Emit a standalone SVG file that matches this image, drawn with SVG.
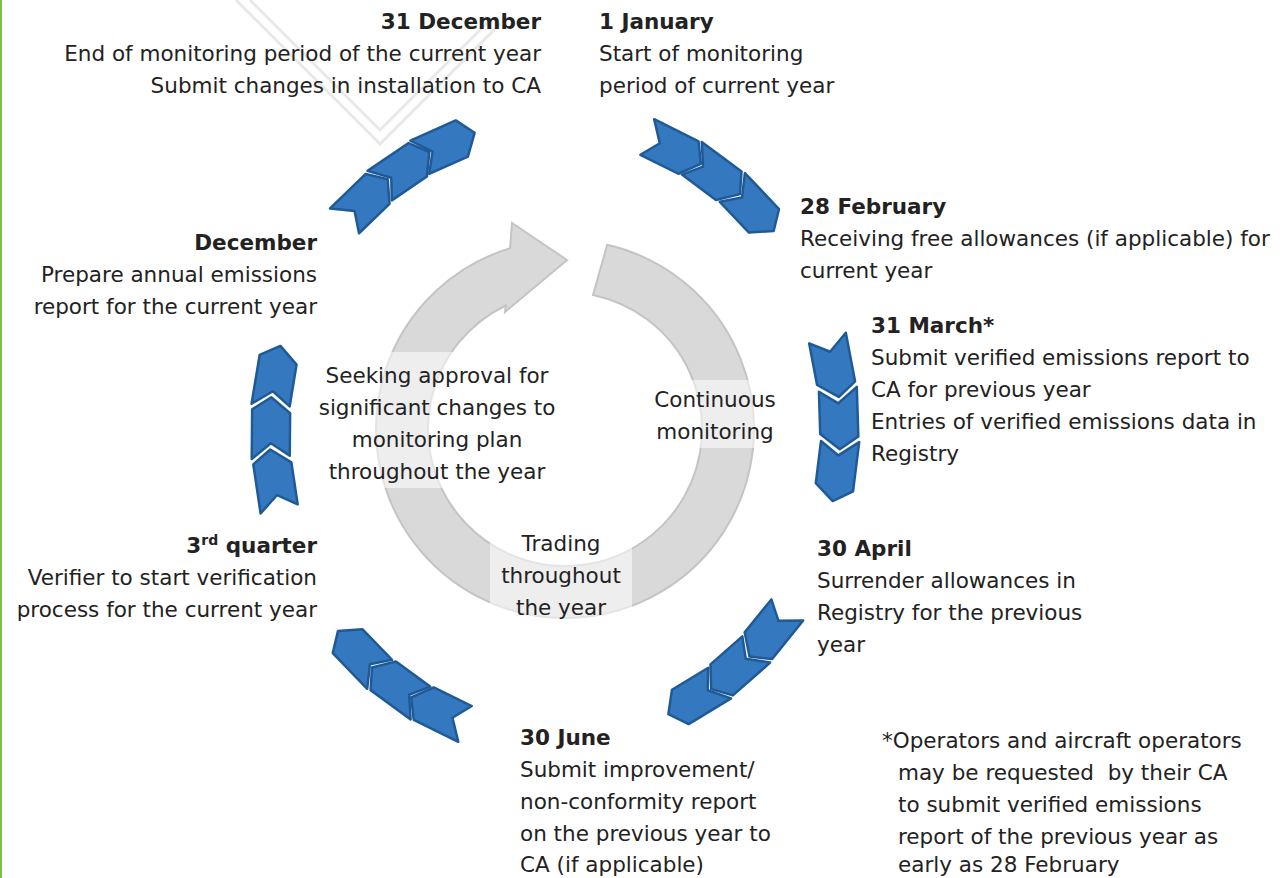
<svg xmlns="http://www.w3.org/2000/svg" width="1286" height="878" viewBox="0 0 1286 878">
  <style>
    text { font-family: "DejaVu Sans", "Liberation Sans", sans-serif; font-size: 21.5px; fill: #222222; }
    .h { font-weight: bold; }
    .r { text-anchor: end; }
    .c { text-anchor: middle; }
    .chev { fill: #3479c0; stroke: #1f5a97; stroke-width: 2.5; stroke-linejoin: round; }
    .wm { fill: none; stroke: #e8e8e8; stroke-width: 3; }
    .veil { fill: #ffffff; fill-opacity: 0.55; }
  </style>
  <defs>
    <!-- one chevron, pointing along +x, centred on the origin; outer edge (-y) a little longer -->
    <polygon id="chev" points="-31.8,-19 17.8,-19 30,0 14.2,19 -28.2,19 -16,0"/>
  </defs>

  <rect x="0" y="0" width="1286" height="878" fill="#ffffff"/>
  <!-- green page rule on the left -->
  <rect x="0" y="0" width="2" height="878" fill="#7ac143"/>

  <!-- faint background stamp -->
  <g id="stamp">
    <path class="wm" d="M236,0 L380,144 L500,24"/>
    <path class="wm" d="M250,0 L380,130 L490,20"/>
  </g>

  <!-- central circular arrow -->
  <g id="cycle">
    <path d="M607.2,244.8 A189,189 0 1 1 510.1,248.2 L512,223 L567,260 L505,312 L505.8,305.5 A137,137 0 1 0 593.0,294.9 Z"
          fill="#d9d9d9" stroke="#c4c4c4" stroke-width="2"/>
  </g>

  <g id="approval">
    <rect class="veil" x="316" y="352" width="242" height="136"/>
    <text class="c" x="437" y="383">Seeking approval for</text>
    <text class="c" x="437" y="415">significant changes to</text>
    <text class="c" x="437" y="447">monitoring plan</text>
    <text class="c" x="437" y="479">throughout the year</text>
  </g>
  <g id="monitoring">
    <rect class="veil" x="646" y="380" width="138" height="68"/>
    <text class="c" x="715" y="407">Continuous</text>
    <text class="c" x="715" y="439">monitoring</text>
  </g>
  <g id="trading">
    <rect class="veil" x="490" y="524" width="142" height="95"/>
    <text class="c" x="561" y="551">Trading</text>
    <text class="c" x="561" y="583">throughout</text>
    <text class="c" x="561" y="615">the year</text>
  </g>

  <!-- chevron connectors between the dates -->
  <g id="connectors">
    <g id="dec-to-31dec">
      <use href="#chev" class="chev" transform="translate(366.1,200.0) rotate(-44.0)"/>
      <use href="#chev" class="chev" transform="translate(404.5,168.8) rotate(-34.1)"/>
      <use href="#chev" class="chev" transform="translate(447.2,145.0) rotate(-24.0)"/>
    </g>
    <g id="1jan-to-28feb">
      <use href="#chev" class="chev" transform="translate(674.1,150.4) rotate(26.6)"/>
      <use href="#chev" class="chev" transform="translate(715.9,176.2) rotate(36.7)"/>
      <use href="#chev" class="chev" transform="translate(753.0,209.2) rotate(46.5)"/>
    </g>
    <g id="31mar-to-30apr">
      <use href="#chev" class="chev" transform="translate(833.1,367.5) rotate(79.2)"/>
      <use href="#chev" class="chev" transform="translate(838.8,419.3) rotate(88.2)"/>
      <use href="#chev" class="chev" transform="translate(836.4,471.3) rotate(97.1)"/>
    </g>
    <g id="30apr-to-30jun">
      <use href="#chev" class="chev" transform="translate(768.4,633.3) rotate(129.0)"/>
      <use href="#chev" class="chev" transform="translate(733.7,669.3) rotate(138.7)"/>
      <use href="#chev" class="chev" transform="translate(694.0,698.6) rotate(148.7)"/>
    </g>
    <g id="30jun-to-q3">
      <use href="#chev" class="chev" transform="translate(438.1,710.7) rotate(-153.9)"/>
      <use href="#chev" class="chev" transform="translate(396.2,685.3) rotate(-143.8)"/>
      <use href="#chev" class="chev" transform="translate(358.8,652.7) rotate(-134.0)"/>
    </g>
    <g id="q3-to-dec">
      <use href="#chev" class="chev" transform="translate(274.7,479.2) rotate(-98.5)"/>
      <use href="#chev" class="chev" transform="translate(271.0,427.3) rotate(-89.5)"/>
      <use href="#chev" class="chev" transform="translate(275.5,375.5) rotate(-80.6)"/>
    </g>
  </g>

  <!-- milestones -->
  <g id="dec31">
    <text class="h r" x="541" y="29">31 December</text>
    <text class="r" x="541" y="61">End of monitoring period of the current year</text>
    <text class="r" x="541" y="93">Submit changes in installation to CA</text>
  </g>
  <g id="jan1">
    <text class="h" x="599" y="29">1 January</text>
    <text x="599" y="61">Start of monitoring</text>
    <text x="599" y="93">period of current year</text>
  </g>
  <g id="feb28">
    <text class="h" x="800" y="214">28 February</text>
    <text x="800" y="246">Receiving free allowances (if applicable) for</text>
    <text x="800" y="278">current year</text>
  </g>
  <g id="mar31">
    <text class="h" x="871" y="333">31 March*</text>
    <text x="871" y="365">Submit verified emissions report to</text>
    <text x="871" y="397">CA for previous year</text>
    <text x="871" y="429">Entries of verified emissions data in</text>
    <text x="871" y="461">Registry</text>
  </g>
  <g id="apr30">
    <text class="h" x="817" y="556">30 April</text>
    <text x="817" y="588">Surrender allowances in</text>
    <text x="817" y="620">Registry for the previous</text>
    <text x="817" y="652">year</text>
  </g>
  <g id="jun30">
    <text class="h" x="520" y="745">30 June</text>
    <text x="520" y="777">Submit improvement/</text>
    <text x="520" y="809">non-conformity report</text>
    <text x="520" y="841">on the previous year to</text>
    <text x="520" y="872">CA (if applicable)</text>
  </g>
  <g id="q3">
    <text class="h r" x="317" y="553">3<tspan font-size="14" dy="-8">rd</tspan><tspan dy="8"> quarter</tspan></text>
    <text class="r" x="317" y="585">Verifier to start verification</text>
    <text class="r" x="317" y="617">process for the current year</text>
  </g>
  <g id="december">
    <text class="h r" x="317" y="250">December</text>
    <text class="r" x="317" y="282">Prepare annual emissions</text>
    <text class="r" x="317" y="314">report for the current year</text>
  </g>
  <g id="footnote">
    <text x="882" y="748">*Operators and aircraft operators</text>
    <text x="898" y="780" xml:space="preserve">may be requested  by their CA</text>
    <text x="898" y="812">to submit verified emissions</text>
    <text x="898" y="844">report of the previous year as</text>
    <text x="898" y="872">early as 28 February</text>
  </g>
</svg>
